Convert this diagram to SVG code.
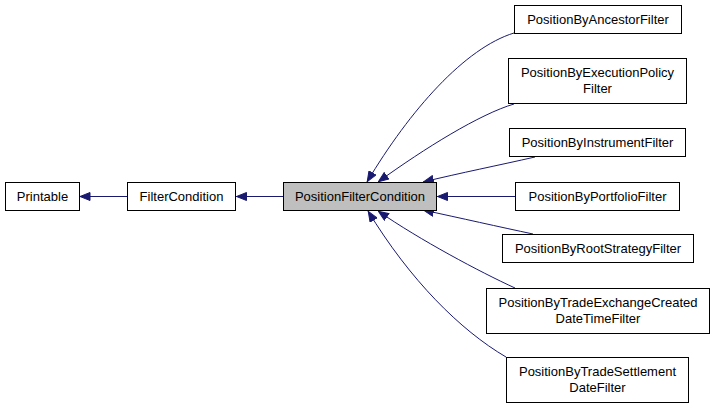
<svg xmlns="http://www.w3.org/2000/svg" width="715" height="408" viewBox="0 0 715 408">
<style>
.box{fill:#ffffff;stroke:#000000;stroke-width:1}
.cur{fill:#bfbfbf;stroke:#000000;stroke-width:1}
text{font-family:"Liberation Sans",Arial,Helvetica,sans-serif;font-size:13px;fill:#000000;text-anchor:middle}
.edge{fill:none;stroke:#191970;stroke-width:1;marker-end:url(#arr)}
</style>
<defs>
<marker id="arr" viewBox="0 0 11 9" refX="11" refY="4.5" markerWidth="11" markerHeight="9" markerUnits="userSpaceOnUse" orient="auto">
<path d="M0.5,0.5 L10.5,4.5 L0.5,8.5 Z" fill="#191970" stroke="#191970" stroke-width="1"/>
</marker>
</defs>
<rect width="715" height="408" fill="#ffffff"/>
<g id="edges">
<path class="edge" d="M127,196.5 L79.5,196.5"/>
<path class="edge" d="M283,196.5 L236,196.5"/>
<path class="edge" d="M514,33 C465,48 410,110 367,182"/>
<path class="edge" d="M514,104 C480,114 425,148 378,182"/>
<path class="edge" d="M535,157 C500,165 460,173 423,182"/>
<path class="edge" d="M515,196.5 L437,196.5"/>
<path class="edge" d="M533,234 C500,227 460,218 423,210"/>
<path class="edge" d="M515,288 C480,272 420,240 378,211"/>
<path class="edge" d="M506,357 C460,330 410,280 368,211"/>
</g>
<g id="Printable">
<rect class="box" x="5.5" y="182.5" width="74" height="28"/>
<text x="42.5" y="201">Printable</text>
</g>
<g id="FilterCondition">
<rect class="box" x="127.5" y="182.5" width="108" height="28"/>
<text x="181.5" y="201">FilterCondition</text>
</g>
<g id="PositionFilterCondition">
<rect class="cur" x="283.5" y="182.5" width="153" height="28"/>
<text x="360" y="201">PositionFilterCondition</text>
</g>
<g id="PositionByAncestorFilter">
<rect class="box" x="514.5" y="5.5" width="167" height="28"/>
<text x="598" y="24">PositionByAncestorFilter</text>
</g>
<g id="PositionByExecutionPolicyFilter">
<rect class="box" x="508.5" y="58.5" width="178" height="45"/>
<text x="597.5" y="76.5">PositionByExecutionPolicy</text>
<text x="597.5" y="93">Filter</text>
</g>
<g id="PositionByInstrumentFilter">
<rect class="box" x="509.5" y="128.5" width="176" height="28"/>
<text x="597.5" y="147">PositionByInstrumentFilter</text>
</g>
<g id="PositionByPortfolioFilter">
<rect class="box" x="515.5" y="182.5" width="164" height="28"/>
<text x="597.5" y="201">PositionByPortfolioFilter</text>
</g>
<g id="PositionByRootStrategyFilter">
<rect class="box" x="502.5" y="234.5" width="191" height="28"/>
<text x="598" y="253">PositionByRootStrategyFilter</text>
</g>
<g id="PositionByTradeExchangeCreatedDateTimeFilter">
<rect class="box" x="486.5" y="288.5" width="223" height="45"/>
<text x="598" y="306.5">PositionByTradeExchangeCreated</text>
<text x="598" y="323">DateTimeFilter</text>
</g>
<g id="PositionByTradeSettlementDateFilter">
<rect class="box" x="506.5" y="357.5" width="182" height="45"/>
<text x="597.5" y="375.5">PositionByTradeSettlement</text>
<text x="597.5" y="392">DateFilter</text>
</g>
</svg>
